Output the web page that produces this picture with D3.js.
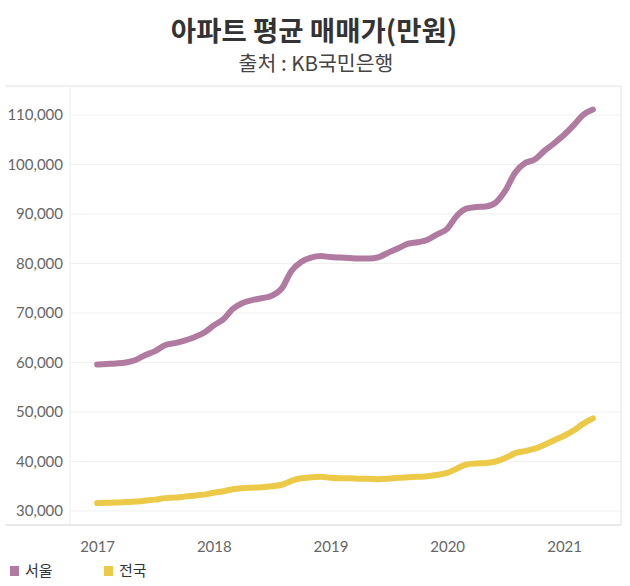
<!DOCTYPE html>
<html>
<head>
<meta charset="utf-8">
<script src="https://cdn.jsdelivr.net/npm/d3@7"></script>
<style>
  body { margin: 0; background: #fff; }
  text { font-family: "Lato", "Noto Sans CJK KR", sans-serif; }
  .kr { font-family: "Noto Sans CJK KR", sans-serif; }
</style>
</head>
<body>
<svg id="chart" width="630" height="586"></svg>
<script>
// monthly, 2017-01 .. 2021-04
var startMonth = "2017-01";
var seoul = [
    59600, 59700, 59800, 60000, 60500, 61500, 62300, 63500, 63900, 64400, 65100, 66000,
    67500, 68800, 70800, 72000, 72600, 73000, 73500, 74900, 78500, 80300, 81200, 81500,
    81300, 81200, 81100, 81000, 81000, 81300, 82200, 83100, 84000, 84300, 84800, 85900,
    87000, 89700, 91100, 91400, 91500, 92300, 94700, 98400, 100300, 101000, 102800, 104300,
    106000, 108000, 110000, 111100
];
var national = [
    31600, 31650, 31700, 31800, 31900, 32100, 32300, 32600, 32700, 32900, 33100, 33300,
    33700, 34000, 34400, 34600, 34700, 34800, 35000, 35300, 36100, 36600, 36800, 36900,
    36700, 36600, 36600, 36500, 36500, 36400, 36500, 36700, 36800, 36900, 37000, 37300,
    37700, 38600, 39400, 39600, 39700, 40000, 40700, 41700, 42100, 42600, 43400, 44300,
    45200, 46300, 47600, 48700
];
var seriesNames = ["서울", "전국"];
var yTicks = [30000, 40000, 50000, 60000, 70000, 80000, 90000, 100000, 110000];
var xTickYears = [2017, 2018, 2019, 2020, 2021];

var colors = ["#b07aa1", "#edc948"];

var svg = d3.select("#chart");
var frame = { left: 5, right: 621, top: 86, bottom: 525, plotLeft: 70 };

var parseMonth = d3.timeParse("%Y-%m");
var t0 = parseMonth(startMonth);
var months = seoul.map(function(d, i) { return d3.timeMonth.offset(t0, i); });

var x = d3.scaleTime()
    .domain([new Date(2016, 9, 8), new Date(2021, 5, 28)])
    .range([frame.plotLeft, frame.right]);
var y = d3.scaleLinear()
    .domain([27170, 115860])
    .range([frame.bottom, frame.top]);

// title
svg.append("text")
    .attr("class", "kr")
    .attr("x", 314).attr("y", 41)
    .attr("text-anchor", "middle")
    .attr("font-size", 27.5).attr("font-weight", "bold")
    .attr("fill", "#333")
    .text("아파트 평균 매매가(만원)");
svg.append("text")
    .attr("class", "kr")
    .attr("x", 316).attr("y", 71)
    .attr("text-anchor", "middle")
    .attr("font-size", 20.5)
    .attr("fill", "#444")
    .text("출처 : KB국민은행");

// grid
svg.append("g").selectAll("line")
    .data(yTicks)
    .enter()
    .append("line")
    .attr("x1", frame.plotLeft).attr("x2", frame.right)
    .attr("y1", function(d) { return y(d); })
    .attr("y2", function(d) { return y(d); })
    .attr("stroke", "#f0f0f0").attr("stroke-width", 1);

// frame lines
svg.append("line").attr("x1", frame.left).attr("x2", frame.right)
    .attr("y1", frame.top).attr("y2", frame.top).attr("stroke", "#e2e2e2");
svg.append("line").attr("x1", frame.left).attr("x2", frame.right)
    .attr("y1", frame.bottom).attr("y2", frame.bottom).attr("stroke", "#d4d4d4");
svg.append("line").attr("x1", frame.plotLeft).attr("x2", frame.plotLeft)
    .attr("y1", frame.top).attr("y2", frame.bottom).attr("stroke", "#ececec");
svg.append("line").attr("x1", frame.right).attr("x2", frame.right)
    .attr("y1", frame.top).attr("y2", frame.bottom).attr("stroke", "#e2e2e2");

// y axis
var yAxis = d3.axisLeft(y)
    .tickValues(yTicks)
    .tickSize(0)
    .tickPadding(7)
    .tickFormat(d3.format(","));
var gy = svg.append("g")
    .attr("transform", "translate(" + frame.plotLeft + ",0)")
    .call(yAxis);
gy.select(".domain").remove();
gy.selectAll("text").attr("font-size", 15).attr("fill", "#666")
    .style("font-family", "Lato, sans-serif");

// x axis
var xAxis = d3.axisBottom(x)
    .tickValues(xTickYears.map(function(yr) { return new Date(yr, 0, 1); }))
    .tickSize(0)
    .tickPadding(16)
    .tickFormat(d3.timeFormat("%Y"));
var gx = svg.append("g")
    .attr("transform", "translate(0," + frame.bottom + ")")
    .call(xAxis);
gx.select(".domain").remove();
gx.selectAll("text").attr("font-size", 15).attr("fill", "#666")
    .style("font-family", "Lato, sans-serif");

// lines
var line = d3.line()
    .x(function(d, i) { return x(months[i]); })
    .y(function(d) { return y(d); })
    .curve(d3.curveMonotoneX);

svg.append("g").selectAll("path")
    .data([seoul, national])
    .enter()
    .append("path")
    .attr("d", line)
    .attr("fill", "none")
    .attr("stroke", function(d, i) { return colors[i]; })
    .attr("stroke-width", 6)
    .attr("stroke-linecap", "round")
    .attr("stroke-linejoin", "round");

// legend
var legend = svg.append("g").selectAll("g")
    .data(seriesNames)
    .enter()
    .append("g")
    .attr("transform", function(d, i) { return "translate(10," + 566 + ") translate(" + (i * 94) + ",0)"; });
legend.append("rect")
    .attr("width", 9).attr("height", 10)
    .attr("fill", function(d, i) { return colors[i]; });
legend.append("text")
    .attr("class", "kr")
    .attr("x", 15).attr("y", 10)
    .attr("font-size", 15)
    .attr("fill", "#333")
    .text(function(d) { return d; });
</script>
</body>
</html>
